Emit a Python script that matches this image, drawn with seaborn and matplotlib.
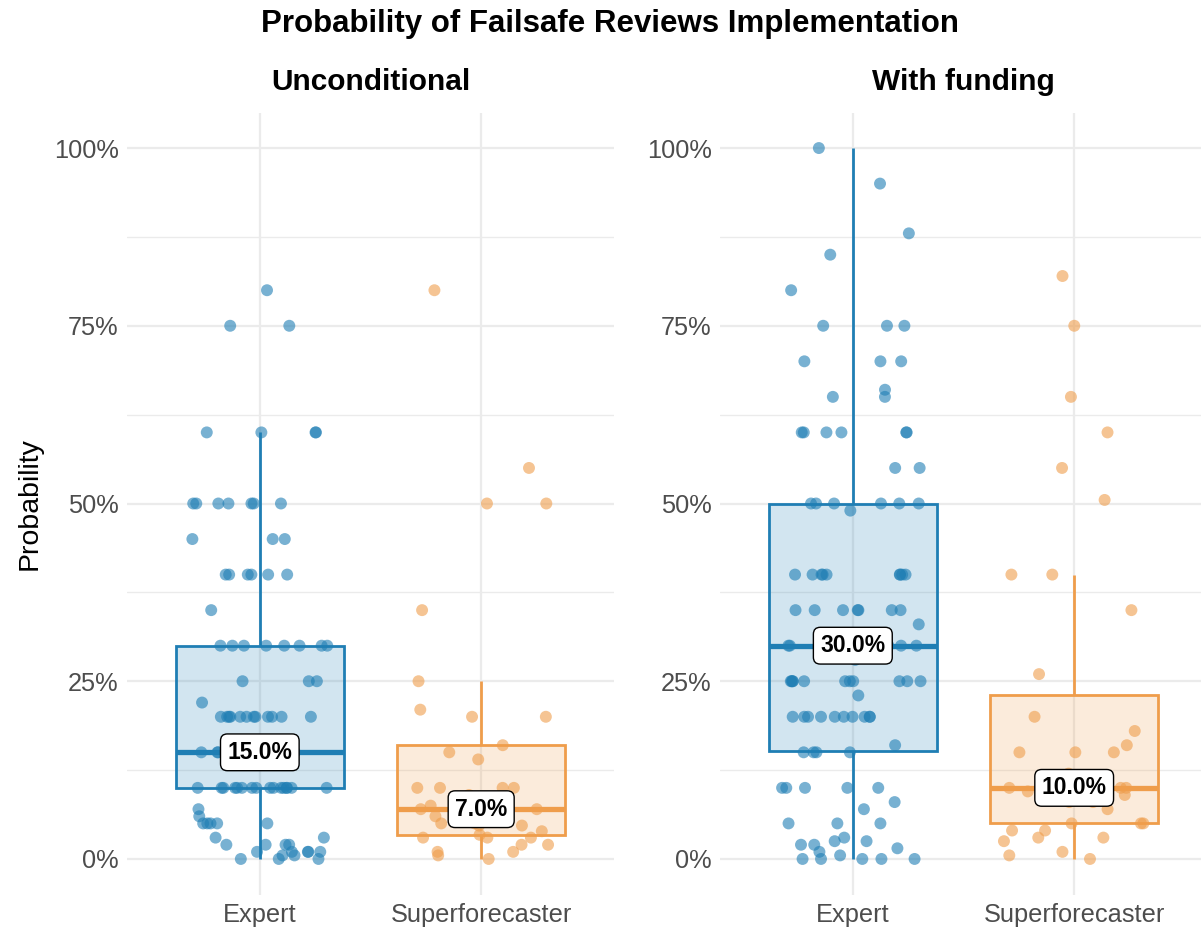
import numpy as np
import pandas as pd
import matplotlib.pyplot as plt
import seaborn as sns
from matplotlib.ticker import FuncFormatter

groups = ['Expert', 'Superforecaster']
panels = ['Unconditional', 'With funding']
colors = {'Expert': '#1F7EB4', 'Superforecaster': '#EF9D4B'}

# probabilities in %
expert_uncond = ([80, 75, 75] + [60] * 4 + [50] * 7 + [45] * 3 + [40] * 6 + [35] + [30] * 8
                 + [25] * 3 + [22] + [20] * 12 + [15] * 11 + [10] * 16 + [7, 6] + [5] * 5
                 + [3] * 2 + [2] * 4 + [1] * 5 + [0.5, 0.5] + [0] * 3)
sf_uncond = [0, 0.5, 1, 1, 2, 2, 3, 3, 3, 3.4, 3.9, 4.7, 4.7, 5, 5, 6, 7, 7, 7, 7.5,
             9, 10, 10, 10, 10, 14, 15, 16, 20, 20, 21, 25, 35, 50, 50, 55, 80]
expert_fund = ([100, 95, 88, 85, 80] + [75] * 3 + [70] * 3 + [66] + [65] * 2 + [60] * 6
               + [55] * 2 + [50] * 6 + [49] + [40] * 9 + [35] * 7 + [33] + [30] * 9 + [28]
               + [25] * 11 + [23] + [20] * 10 + [16] + [15] * 4 + [10] * 5 + [8, 7]
               + [5] * 3 + [3, 2.5, 2.5, 2, 2, 1.5, 1, 0.5] + [0] * 5)
sf_fund = [0, 0.5, 1, 2.5, 3, 3, 4, 4, 5, 5, 5, 7, 8, 8, 9, 9.5, 10, 10, 10, 10, 10,
           11, 12, 15, 15, 15, 16, 18, 20, 26, 35, 40, 40, 50.5, 55, 60, 65, 75, 82]

values = {
    ('Unconditional', 'Expert'): expert_uncond,
    ('Unconditional', 'Superforecaster'): sf_uncond,
    ('With funding', 'Expert'): expert_fund,
    ('With funding', 'Superforecaster'): sf_fund,
}
rows = []
for (panel, group), vals in values.items():
    for v in vals:
        rows.append({'panel': panel, 'group': group, 'prob': v})
df = pd.DataFrame(rows)

sns.set_style('white')
plt.rcParams['font.family'] = ['Liberation Sans', 'DejaVu Sans']
plt.rcParams['text.color'] = 'black'
plt.rcParams['axes.labelcolor'] = 'black'

fig = plt.figure(figsize=(12.01, 9.32), dpi=100)
W, H = 1201, 932
ax1 = fig.add_axes([127 / W, 1 - 894.5 / H, 487 / W, 782 / H])
ax2 = fig.add_axes([720 / W, 1 - 894.5 / H, 487 / W, 782 / H])

np.random.seed(3)
for ax, panel in zip([ax1, ax2], panels):
    sub = df[df['panel'] == panel]
    for g in groups:
        d = sub[sub['group'] == g]
        c = colors[g]
        sns.boxplot(data=d, x='group', y='prob', order=groups, ax=ax, width=0.76,
                    showfliers=False, showcaps=False, whis=1.5,
                    boxprops=dict(facecolor=(*plt.matplotlib.colors.to_rgb(c), 0.2),
                                  edgecolor=c, linewidth=2.0),
                    medianprops=dict(color=c, linewidth=3.8),
                    whiskerprops=dict(color=c, linewidth=2.0))
    sns.stripplot(data=sub, x='group', y='prob', order=groups, hue='group',
                  palette=colors, jitter=0.32, size=8.6, alpha=0.6, linewidth=0,
                  ax=ax, legend=False, zorder=3)
    for i, g in enumerate(groups):
        med = np.median(sub[sub['group'] == g]['prob'])
        ax.text(i, med, f'{med:.1f}%', ha='center', va='center', fontsize=16.5,
                fontweight='bold', zorder=10,
                bbox=dict(boxstyle='round,pad=0.3,rounding_size=0.3', fc='white',
                          ec='black', lw=1.0))

    ax.set_xlim(-0.6, 1.6)
    ax.set_ylim(-5, 105)
    ax.set_yticks([0, 25, 50, 75, 100])
    ax.set_yticks([12.5, 37.5, 62.5, 87.5], minor=True)
    ax.yaxis.set_major_formatter(FuncFormatter(lambda v, p: f'{v:.0f}%'))
    ax.set_axisbelow(True)
    ax.grid(which='major', axis='both', color='#EBEBEB', linewidth=1.6)
    ax.grid(which='minor', axis='y', color='#EBEBEB', linewidth=1.0)
    ax.tick_params(which='both', length=0, labelsize=18.3, labelcolor='#4D4D4D', pad=6)
    for s in ax.spines.values():
        s.set_visible(False)
    ax.set_xlabel('')
    ax.set_ylabel('')
    ax.text(0.5, 1.039, panel, transform=ax.transAxes, ha='center', va='center',
            fontsize=21.5, fontweight='bold')

ax1.set_ylabel('Probability', fontsize=20.5, labelpad=8)
fig.text(610 / W, 1 - 24 / H, 'Probability of Failsafe Reviews Implementation',
         ha='center', va='center', fontsize=22.5, fontweight='bold')

fig.savefig('out.png', dpi=100)
